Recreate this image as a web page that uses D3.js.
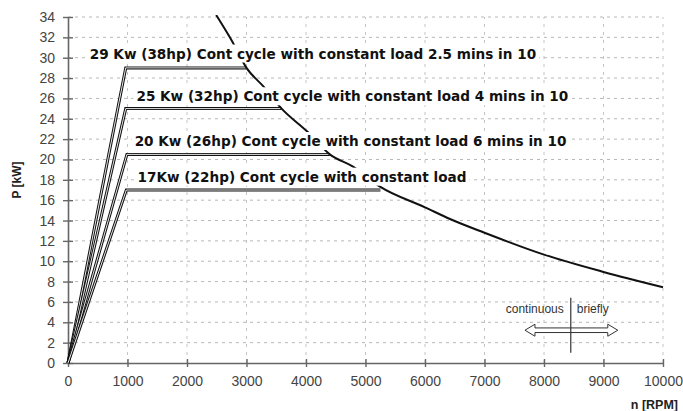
<!doctype html>
<html lang="en">
<head>
<meta charset="utf-8">
<title>P vs n</title>
<script src="https://d3js.org/d3.v7.min.js"></script>
<style>
  body { margin: 0; background: #fff; }
</style>
</head>
<body>

<div id="my_dataviz"></div>

<script>
// limit curve (n in RPM, P in kW)
var curveRpm   = [2490, 2770, 3000, 3280, 3590, 4030, 4400, 4790, 5250, 6000, 6420, 7000, 8000, 9000, 10000];
var curvePower = [34.2, 31.5, 29.0, 27.2, 25.0, 22.7, 20.5, 19.3, 17.3, 15.3, 14.15, 12.8, 10.65, 8.95, 7.45];

// the four duty levels
var levels    = [29, 25, 20.5, 17];
var cornerRpm = [970, 970, 990, 980];
var endRpm    = [3000, 3590, 4400, 5250];
var labels = [
  "29 Kw (38hp) Cont cycle with constant load 2.5 mins in 10",
  "25 Kw (32hp) Cont cycle with constant load 4 mins in 10",
  "20 Kw (26hp) Cont cycle with constant load 6 mins in 10",
  "17Kw (22hp) Cont cycle with constant load"
];
var labelRpm   = [365, 1150, 1120, 1170];
var labelPower = [30.4, 26.2, 21.8, 18.3];

var xTicks = [0, 1000, 2000, 3000, 4000, 5000, 6000, 7000, 8000, 9000, 10000];
var yTicks = [0, 2, 4, 6, 8, 10, 12, 14, 16, 18, 20, 22, 24, 26, 28, 30, 32, 34];

var margin = {top: 17, right: 20, bottom: 48, left: 68},
    width = 683 - margin.left - margin.right,
    height = 411 - margin.top - margin.bottom;

var svg = d3.select("#my_dataviz")
  .append("svg")
    .attr("width", 683)
    .attr("height", 411)
  .append("g")
    .attr("transform", "translate(" + margin.left + "," + margin.top + ")");

var x = d3.scaleLinear().domain([0, 10000]).range([0, 595]);
var y = d3.scaleLinear().domain([0, 34]).range([346, 0]);

// grid
svg.append("g").selectAll("line.h")
  .data(yTicks.slice(1))
  .enter().append("line")
    .attr("x1", 0).attr("x2", x(10000))
    .attr("y1", function(d) { return y(d); })
    .attr("y2", function(d) { return y(d); })
    .attr("stroke", "#b8b8b8")
    .attr("stroke-dasharray", "3,4");

svg.append("g").selectAll("line.v")
  .data(xTicks.slice(1))
  .enter().append("line")
    .attr("y1", y(0)).attr("y2", y(34))
    .attr("x1", function(d) { return x(d); })
    .attr("x2", function(d) { return x(d); })
    .attr("stroke", "#c4c4c4")
    .attr("stroke-dasharray", "3,5");

// axes
var xAxis = svg.append("g")
  .attr("transform", "translate(0," + y(0) + ")")
  .call(d3.axisBottom(x).tickValues(xTicks).tickFormat(d3.format("d"))
    .tickSizeInner(4).tickSizeOuter(0).tickPadding(9));
var yAxis = svg.append("g")
  .call(d3.axisLeft(y).tickValues(yTicks).tickFormat(d3.format("d"))
    .tickSizeInner(5).tickSizeOuter(0).tickPadding(8));

[xAxis, yAxis].forEach(function(a) {
  a.select(".domain").attr("stroke", "#666").attr("stroke-width", 1.6);
  a.selectAll(".tick line").attr("stroke", "#666").attr("stroke-width", 1.4);
  a.selectAll(".tick text")
    .attr("fill", "#444")
    .style("font-family", "Liberation Sans, Arial, sans-serif")
    .style("font-size", "14px");
});
// ticks cross the axis
xAxis.selectAll(".tick line").attr("y1", -4);
yAxis.selectAll(".tick line").attr("x1", 5);

// axis titles
svg.append("text")
  .attr("transform", "translate(" + (-51) + "," + 163 + ") rotate(-90)")
  .attr("text-anchor", "middle")
  .attr("dy", "0.35em")
  .style("font-family", "Liberation Sans, Arial, sans-serif")
  .style("font-weight", "bold")
  .style("font-size", "12px")
  .attr("fill", "#222")
  .text("P [kW]");

svg.append("text")
  .attr("x", 610)
  .attr("y", 392)
  .attr("text-anchor", "end")
  .style("font-family", "Liberation Sans, Arial, sans-serif")
  .style("font-weight", "bold")
  .style("font-size", "12.5px")
  .attr("fill", "#222")
  .text("n [RPM]");

// duty lines: origin -> corner -> limit curve, drawn as a double line
var duty = d3.line()
  .x(function(d) { return x(d[0]); })
  .y(function(d) { return y(d[1]); });

levels.forEach(function(p, i) {
  var pts = [[0, 0], [cornerRpm[i], p], [endRpm[i], p]];
  svg.append("path")
    .attr("d", duty(pts))
    .attr("fill", "none")
    .attr("stroke", "#111")
    .attr("stroke-width", 3)
    .attr("stroke-linejoin", "miter");
  svg.append("path")
    .attr("d", duty(pts))
    .attr("fill", "none")
    .attr("stroke", "#fff")
    .attr("stroke-width", 0.9)
    .attr("stroke-linejoin", "miter");
});

// limit curve
var curveData = curveRpm.map(function(n, i) { return [n, curvePower[i]]; });
svg.append("clipPath").attr("id", "clip")
  .append("rect").attr("x", 0).attr("y", y(34) - 2).attr("width", 600).attr("height", 350);

svg.append("path")
  .datum(curveData)
  .attr("clip-path", "url(#clip)")
  .attr("fill", "none")
  .attr("stroke", "#111")
  .attr("stroke-width", 2)
  .attr("d", d3.line()
    .x(function(d) { return x(d[0]); })
    .y(function(d) { return y(d[1]); })
    .curve(d3.curveMonotoneX));

// labels with white boxes behind them
labels.forEach(function(t, i) {
  var g = svg.append("g");
  var txt = g.append("text")
    .attr("x", x(labelRpm[i]))
    .attr("y", y(labelPower[i]))
    .attr("dy", "0.36em")
    .style("font-family", "DejaVu Sans, sans-serif")
    .style("font-weight", "bold")
    .style("font-size", "13.6px")
    .attr("fill", "#111")
    .text(t);
  var b = txt.node().getBBox();
  g.insert("rect", "text")
    .attr("x", b.x - 3)
    .attr("y", b.y - 1)
    .attr("width", b.width + 6)
    .attr("height", b.height + 2)
    .attr("fill", "#fff");
});

// continuous / briefly legend
var lx = x(8450);
svg.append("line")
  .attr("x1", lx).attr("x2", lx)
  .attr("y1", y(6.4)).attr("y2", y(1.0))
  .attr("stroke", "#333").attr("stroke-width", 1.2);

var ax1 = x(7680), ax2 = x(9240), ay = y(3.22), hl = 10, hh = 6, sh = 2.3;
var arrow = d3.path();
arrow.moveTo(ax1, ay);
arrow.lineTo(ax1 + hl, ay - hh);
arrow.lineTo(ax1 + hl, ay - sh);
arrow.lineTo(ax2 - hl, ay - sh);
arrow.lineTo(ax2 - hl, ay - hh);
arrow.lineTo(ax2, ay);
arrow.lineTo(ax2 - hl, ay + hh);
arrow.lineTo(ax2 - hl, ay + sh);
arrow.lineTo(ax1 + hl, ay + sh);
arrow.lineTo(ax1 + hl, ay + hh);
arrow.closePath();
svg.append("path")
  .attr("d", arrow.toString())
  .attr("fill", "#fff")
  .attr("stroke", "#333")
  .attr("stroke-width", 1);
svg.append("line")
  .attr("x1", lx).attr("x2", lx)
  .attr("y1", ay - sh).attr("y2", ay + sh)
  .attr("stroke", "#333").attr("stroke-width", 1.2);

svg.append("text")
  .attr("x", lx - 7).attr("y", y(4.9))
  .attr("text-anchor", "end")
  .style("font-family", "Liberation Sans, Arial, sans-serif")
  .style("font-size", "12px")
  .attr("fill", "#333")
  .text("continuous");
svg.append("text")
  .attr("x", lx + 6).attr("y", y(4.9))
  .style("font-family", "Liberation Sans, Arial, sans-serif")
  .style("font-size", "12px")
  .attr("fill", "#333")
  .text("briefly");
</script>

</body>
</html>
